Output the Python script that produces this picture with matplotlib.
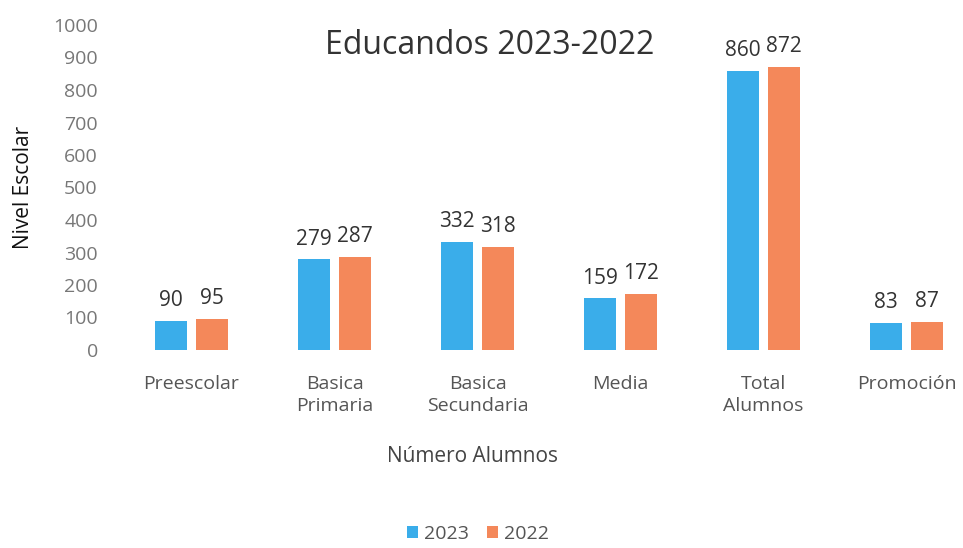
import matplotlib
matplotlib.use("Agg")
import matplotlib.pyplot as plt
import numpy as np

categories = ["Preescolar", "Basica\nPrimaria", "Basica\nSecundaria", "Media",
              "Total\nAlumnos", "Promoción"]
values_2023 = [90, 279, 332, 159, 860, 83]
values_2022 = [95, 287, 318, 172, 872, 87]
series_labels = ["2023", "2022"]

BLUE = "#3AADEA"
ORANGE = "#F4885A"

plt.rcParams["font.family"] = ["Open Sans", "DejaVu Sans"]


def main():
    fig = plt.figure(figsize=(9.63, 5.48), dpi=100)
    ax = fig.add_axes([120 / 963, 1 - 350 / 548, 1 - 120 / 963, 325 / 548])

    x = np.arange(len(categories))
    w = 0.224
    off = 0.143
    b1 = ax.bar(x - off, values_2023, width=w, color=BLUE, label=series_labels[0])
    b2 = ax.bar(x + off, values_2022, width=w, color=ORANGE, label=series_labels[1])

    for bars in (b1, b2):
        for rect in bars:
            h = rect.get_height()
            ax.annotate(f"{h:.0f}", (rect.get_x() + rect.get_width() / 2, h),
                        xytext=(0, 7), textcoords="offset points",
                        ha="center", va="bottom", fontsize=15, color="#333333")

    ax.set_ylim(0, 1000)
    ax.set_xlim(-0.5, 843 / 143 - 0.5)
    ax.set_yticks(np.arange(0, 1001, 100))
    ax.tick_params(axis="y", length=0, labelsize=14, labelcolor="#777777", pad=16)
    ax.set_xticks(x)
    ax.set_xticklabels(categories, linespacing=1.3)
    ax.tick_params(axis="x", length=0, labelsize=14, labelcolor="#555555", pad=18)
    for s in ax.spines.values():
        s.set_visible(False)

    ax.set_ylabel("Nivel Escolar", fontsize=15, color="#111111")
    ax.yaxis.set_label_coords(-86 / 843, 0.5)
    ax.set_xlabel("Número Alumnos", fontsize=15, color="#444444")
    ax.xaxis.set_label_coords((472 - 120) / 843, -(446 - 350) / 325)

    fig.text(490 / 963, 1 - 45 / 548, "Educandos 2023-2022", fontsize=23,
             color="#333333", ha="center", va="center")

    fig.legend(loc="center", bbox_to_anchor=(478 / 963, 1 - 534 / 548), ncol=2,
               frameon=False, fontsize=14, handlelength=0.6, handleheight=0.6,
               columnspacing=0.9, handletextpad=0.3, labelcolor="#555555",
               borderpad=0.2)

    fig.savefig("out.png", dpi=100)


if __name__ == "__main__":
    main()
